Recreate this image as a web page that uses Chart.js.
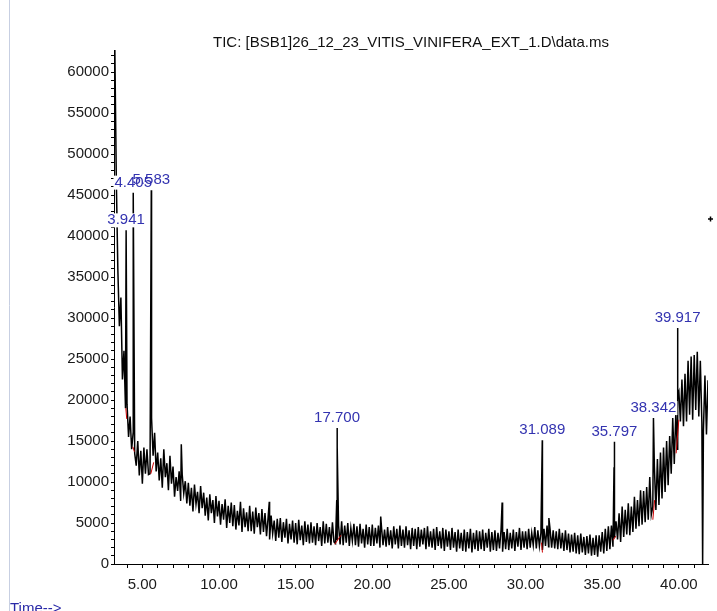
<!DOCTYPE html>
<html><head><meta charset="utf-8">
<script src="https://cdn.jsdelivr.net/npm/chart.js@4.4.1/dist/chart.umd.min.js"></script>
<style>html,body{margin:0;padding:0;background:#fff}#wrap{position:relative;width:717px;height:611px}</style>
</head><body><div id="wrap"><canvas id="c" width="717" height="611"></canvas></div>
<script>
const chartTitle = "TIC: [BSB1]26_12_23_VITIS_VINIFERA_EXT_1.D\\data.ms";
const axisLabelX = "Time-->";

// scan grid: 3.2 .. 41.9 min, every 0.1 min
const scanStart = 3.2;
const scanStep = 0.1;
const ticValues = [
  63500, 47000, 36000, 29000, 32500, 22500, 26000, 19000,
  19500, 15500, 18000, 14000, 16000, 13500, 12000, 15000, 10800, 13800,
  9800, 14200, 11000, 14000, 10900, 11000, 17800, 13200, 16000, 11300,
  13600, 10200, 12900, 9300, 14000, 10600, 12300, 9000, 13200, 9800,
  11900, 8200, 10600, 8900, 11300, 7700, 10900, 8600, 10100, 7400,
  9900, 7100, 9300, 6400, 9700, 7300, 8800, 6200, 9500, 6800,
  8700, 5900, 8100, 5300, 8500, 6200, 7800, 5000, 8300, 5800,
  7700, 4800, 7300, 5400, 7900, 4400, 7100, 5000, 7500, 4600,
  7200, 4200, 6500, 4700, 7600, 3900, 6800, 4500, 6300, 4000,
  7100, 4000, 6400, 3700, 6900, 4500, 6200, 3600, 6700, 3900,
  6200, 3400, 5600, 3000, 5900, 3700, 5300, 2800, 5500, 3200,
  5600, 2700, 5100, 3200, 5500, 2500, 4900, 3000, 5300, 2600,
  5000, 2400, 5400, 2900, 4700, 2300, 5200, 2700, 4800, 2500,
  5100, 2600, 4600, 2300, 5000, 2800, 4500, 2200, 5200, 2500,
  4900, 2600, 4500, 2300, 5100, 2700, 2500, 3000, 4700, 2400,
  5200, 2300, 4700, 2600, 5000, 2200, 4400, 2800, 4900, 2300,
  4600, 2100, 4900, 2500, 4300, 2000, 4800, 2400, 4500, 2200,
  4800, 2200, 4400, 2500, 4700, 2000, 4500, 2300, 4200, 2100,
  4500, 2300, 4100, 1900, 4600, 2400, 4300, 1900, 4700, 2200,
  4200, 2000, 4600, 2300, 4100, 1800, 4400, 2200, 4300, 1800,
  4500, 2100, 4200, 2400, 4400, 1800, 4600, 2100, 4000, 2000,
  4300, 1700, 4500, 2200, 4000, 1900, 4400, 1600, 4200, 2100,
  4000, 1700, 4400, 2000, 3900, 1500, 4200, 1900, 3800, 1600,
  4200, 1500, 3900, 1900, 4300, 1400, 3800, 1800, 4100, 1600,
  4000, 1800, 4200, 1600, 3800, 2000, 4300, 1500, 3900, 1700,
  4100, 1600, 3800, 1900, 4200, 1500, 3900, 1800, 4300, 1700,
  3800, 1900, 4200, 1600, 3900, 2100, 4400, 1700, 4000, 2000,
  4000, 1800, 4300, 2000, 3800, 2300, 4500, 1900, 4100, 2200,
  3800, 1700, 4300, 2200, 4700, 2100, 4200, 2000, 4100, 1900,
  4000, 1800, 4300, 1900, 3800, 1600, 4100, 1700, 3700, 1400,
  3600, 1500, 3800, 1300, 3500, 1200, 3700, 1400, 3300, 1100,
  3400, 1300, 3600, 1000, 3200, 1100, 3500, 900, 3500, 1500,
  3900, 1300, 4300, 1600, 4600, 1800, 4700, 2100, 3200, 5200,
  3000, 6200, 2700, 7000, 3300, 6600, 3600, 7400, 3500, 7000,
  3900, 8200, 4300, 7800, 4600, 9000, 4800, 8900, 5100, 9400,
  5400, 10600, 6000, 7000, 12000, 6600, 12800, 7200, 13600, 8000,
  14200, 8800, 15000, 9600, 15600, 11000, 17800, 12200, 18400, 14000,
  21000, 17400, 22500, 16800, 23200, 17400, 24800, 18200, 25300, 17600,
  25500, 18800, 25900, 18000, 24800, 17200, 16200, 23000, 15800, 22400
];

// unlabelled sharp spikes (time, abundance)
const spikeTimes   = [7.54, 13.28, 17.68, 17.72, 20.55, 28.47, 31.52, 35.77, 39.93, 41.55];
const spikeHeights = [14600, 7600, 7800, 14300, 5800, 7500, 5600, 11800, 20500, 0];

// labelled peaks
const peakTimes   = [3.941, 4.405, 5.583, 17.700, 31.089, 35.797, 38.342, 39.917];
const peakHeights = [40700, 45300, 45600, 16600, 15100, 14900, 17800, 28800];
const peakLabels  = ["3.941", "4.405", "5.583", "17.700", "31.089", "35.797", "38.342", "39.917"];

// integration baselines [t1, v1, t2, v2]
const baselineSegments = [
  [3.92, 19000, 3.98, 17700],
  [4.38, 14300, 4.48, 13700],
  [5.55, 11000, 5.74, 12400],
  [17.55, 2400, 17.95, 3500],
  [31.04, 2600, 31.10, 1400],
  [35.72, 2900, 35.88, 3400],
  [38.30, 5400, 38.42, 7800],
  [39.82, 13500, 40.00, 17600]
];

const xMajorTicks = [5, 10, 15, 20, 25, 30, 35, 40];
const yMajorTicks = [0, 5000, 10000, 15000, 20000, 25000, 30000, 35000, 40000, 45000, 50000, 55000, 60000];
const xMinorStep = 1;
const yMinorStep = 1000;

// ---- build series ----
const tracePoints = [];
ticValues.forEach((v, i) => tracePoints.push({x: Math.round((scanStart + i * scanStep) * 1000) / 1000, y: v}));
spikeTimes.forEach((t, i) => tracePoints.push({x: t, y: spikeHeights[i]}));
peakTimes.forEach((t, i) => tracePoints.push({x: t, y: peakHeights[i]}));
tracePoints.sort((a, b) => a.x - b.x);

const basePoints = [];
baselineSegments.forEach(s => {
  basePoints.push({x: s[0], y: s[1]});
  basePoints.push({x: s[2], y: s[3]});
  basePoints.push({x: s[2], y: null});
});

const FONT = '"Liberation Sans", Arial, sans-serif';

const decor = {
  id: 'decor',
  beforeDraw(chart) {
    const ctx = chart.ctx;
    ctx.save();
    ctx.fillStyle = '#fff';
    ctx.fillRect(0, 0, chart.width, chart.height);
    ctx.strokeStyle = '#c7cfe2';
    ctx.lineWidth = 1;
    ctx.beginPath();
    ctx.moveTo(9.5, 0);
    ctx.lineTo(9.5, chart.height);
    ctx.stroke();
    ctx.restore();
  },
  afterDatasetsDraw(chart) {
    const ctx = chart.ctx;
    const xs = chart.scales.x, ys = chart.scales.y, ca = chart.chartArea;
    ctx.save();
    ctx.font = '15px ' + FONT;
    ctx.textAlign = 'center';
    ctx.textBaseline = 'middle';
    const pos = peakTimes.map((t, i) => ({
      px: xs.getPixelForValue(t),
      py: ys.getPixelForValue(peakHeights[i]) - 10,
      w: ctx.measureText(peakLabels[i]).width
    }));
    ctx.fillStyle = '#fff';
    pos.forEach(p => ctx.fillRect(p.px - p.w / 2 - 1, p.py - 7, p.w + 2, 14));
    ctx.fillStyle = '#3333b0';
    pos.forEach((p, i) => ctx.fillText(peakLabels[i], p.px, p.py));
    // title
    ctx.fillStyle = '#111';
    ctx.font = '15px ' + FONT;
    ctx.textAlign = 'center';
    ctx.fillText(chartTitle, (ca.left + ca.right) / 2, 43);
    // axis label
    ctx.textAlign = 'left';
    ctx.textBaseline = 'alphabetic';
    ctx.font = '15px ' + FONT;
    ctx.fillStyle = '#2a2aa8';
    ctx.fillText(axisLabelX, 10, 613);
    // small cursor cross
    ctx.strokeStyle = '#000';
    ctx.lineWidth = 1.5;
    ctx.beginPath();
    ctx.moveTo(708, 219); ctx.lineTo(713, 219);
    ctx.moveTo(710.5, 216.5); ctx.lineTo(710.5, 221.5);
    ctx.stroke();
    ctx.restore();
  }
};

new Chart(document.getElementById('c'), {
  type: 'line',
  data: {
    datasets: [
      {data: basePoints, borderColor: '#cc0000', borderWidth: 1, pointRadius: 0, spanGaps: false, order: 0},
      {data: tracePoints, borderColor: '#000', borderWidth: 1.5, pointRadius: 0, tension: 0, order: 1}
    ]
  },
  options: {
    responsive: false,
    animation: false,
    events: [],
    layout: {padding: {top: 50, right: 9, left: 0, bottom: 0}},
    plugins: {legend: {display: false}, tooltip: {enabled: false}, title: {display: false}},
    scales: {
      x: {
        type: 'linear', min: 3.15, max: 41.9,
        afterBuildTicks: s => { const t = []; for (let v = 4; v <= 41; v += xMinorStep) t.push({value: v}); s.ticks = t; },
        afterFit: s => { s.height = 47; },
        ticks: {
          autoSkip: false, maxRotation: 0, minRotation: 0, padding: 8,
          color: '#1a1a1a', font: {family: FONT, size: 15},
          callback: v => xMajorTicks.includes(v) ? v.toFixed(2) : ''
        },
        grid: {display: true, drawOnChartArea: false, drawTicks: true, tickLength: 4, color: '#000'},
        border: {display: true, color: '#000', width: 1}
      },
      y: {
        type: 'linear', min: 0, max: 62700,
        afterBuildTicks: s => { const t = []; for (let v = 0; v <= 62000; v += yMinorStep) t.push({value: v}); s.ticks = t; },
        afterFit: s => { s.width = 114; },
        ticks: {
          autoSkip: false, padding: 2,
          color: '#1a1a1a', font: {family: FONT, size: 15},
          callback: v => yMajorTicks.includes(v) ? String(v) : ''
        },
        grid: {display: true, drawOnChartArea: false, drawTicks: true, tickLength: 3, color: '#000'},
        border: {display: true, color: '#000', width: 1}
      }
    }
  },
  plugins: [decor]
});
</script>
</body></html>
